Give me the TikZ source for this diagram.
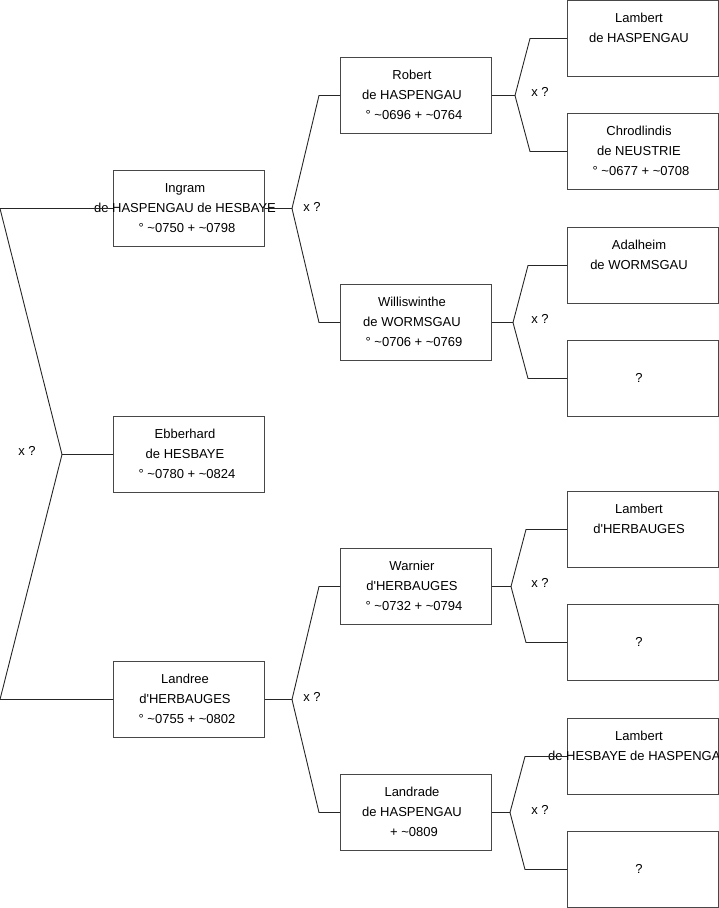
\documentclass[tikz,border=0pt]{standalone}
\usepackage{fontspec}
\setmainfont{Liberation Sans}[Ligatures=TeXOff]
\newcommand{\zline}[1]{\strut\makebox[0pt][c]{#1}}
\newcommand{\per}[3]{\hspace*{-4pt}\zline{#1}\\\hspace*{-4pt}\zline{#2}\\\hspace*{-4pt}\zline{#3}}
\begin{document}
\begin{tikzpicture}[x=1pt,y=-1pt,
  person/.style={draw=black!72, line width=1pt, rectangle, minimum width=151pt, minimum height=76pt,
    inner sep=0pt, align=center, anchor=north west, font=\fontsize{13}{20}\selectfont},
  conn/.style={draw=black!85, line width=0.9pt},
  xq/.style={font=\fontsize{13}{15}\selectfont, inner sep=0pt}]
\useasboundingbox (0,0) rectangle (719,908);
% generation 1
\node[person] (ingram) at (113,170) {\per{Ingram}{de HASPENGAU de HESBAYE}{° \textasciitilde0750 + \textasciitilde0798}};
\node[person] (ebb) at (113,416) {\per{Ebberhard}{de HESBAYE}{° \textasciitilde0780 + \textasciitilde0824}};
\node[person] (landree) at (113,661) {\per{Landree}{d'HERBAUGES}{° \textasciitilde0755 + \textasciitilde0802}};
% generation 2
\node[person] (robert) at (340,57) {\per{Robert}{de HASPENGAU}{° \textasciitilde0696 + \textasciitilde0764}};
\node[person] (willis) at (340,284) {\per{Williswinthe}{de WORMSGAU}{° \textasciitilde0706 + \textasciitilde0769}};
\node[person] (warnier) at (340,548) {\per{Warnier}{d'HERBAUGES}{° \textasciitilde0732 + \textasciitilde0794}};
\node[person] (landrade) at (340,774) {\per{Landrade}{de HASPENGAU}{+ \textasciitilde0809}};
% generation 3
\node[person] (lamb1) at (567,0) {\per{Lambert}{de HASPENGAU}{}};
\node[person] (chrod) at (567,113) {\per{Chrodlindis}{de NEUSTRIE}{° \textasciitilde0677 + \textasciitilde0708}};
\node[person] (adal) at (567,227) {\per{Adalheim}{de WORMSGAU}{}};
\node[person] (unk1) at (567,340) {\per{}{?}{}};
\node[person] (lamb2) at (567,491) {\per{Lambert}{d'HERBAUGES}{}};
\node[person] (unk2) at (567,604) {\per{}{?}{}};
\node[person] (lamb3) at (567,718) {\per{Lambert}{de HESBAYE de HASPENGAU}{}};
\node[person] (unk3) at (567,831) {\per{}{?}{}};
% junction points
\coordinate (a1) at (ingram.west -| 0,0);
\coordinate (a2) at (landree.west -| 0,0);
\coordinate (j0) at (ebb.west -| 62,0);
\coordinate (j1) at (ingram.east -| 292,0);
\coordinate (j1a) at (robert.west -| 319,0);
\coordinate (j1b) at (willis.west -| 319,0);
\coordinate (j2) at (landree.east -| 292,0);
\coordinate (j2a) at (warnier.west -| 319,0);
\coordinate (j2b) at (landrade.west -| 319,0);
\coordinate (k1) at (robert.east -| 515,0);
\coordinate (k1a) at (lamb1.west -| 530,0);
\coordinate (k1b) at (chrod.west -| 530,0);
\coordinate (k2) at (willis.east -| 513,0);
\coordinate (k2a) at (adal.west -| 528,0);
\coordinate (k2b) at (unk1.west -| 528,0);
\coordinate (k3) at (warnier.east -| 511,0);
\coordinate (k3a) at (lamb2.west -| 526,0);
\coordinate (k3b) at (unk2.west -| 526,0);
\coordinate (k4) at (landrade.east -| 510,0);
\coordinate (k4a) at (lamb3.west -| 525,0);
\coordinate (k4b) at (unk3.west -| 525,0);
% connectors
\draw[conn] (ingram.west) -- (a1) -- (j0) -- (ebb.west);
\draw[conn] (landree.west) -- (a2) -- (j0);
\draw[conn] (ingram.east) -- (j1) -- (j1a) -- (robert.west);
\draw[conn] (j1) -- (j1b) -- (willis.west);
\draw[conn] (landree.east) -- (j2) -- (j2a) -- (warnier.west);
\draw[conn] (j2) -- (j2b) -- (landrade.west);
\draw[conn] (robert.east) -- (k1) -- (k1a) -- (lamb1.west);
\draw[conn] (k1) -- (k1b) -- (chrod.west);
\draw[conn] (willis.east) -- (k2) -- (k2a) -- (adal.west);
\draw[conn] (k2) -- (k2b) -- (unk1.west);
\draw[conn] (warnier.east) -- (k3) -- (k3a) -- (lamb2.west);
\draw[conn] (k3) -- (k3b) -- (unk2.west);
\draw[conn] (landrade.east) -- (k4) -- (k4a) -- (lamb3.west);
\draw[conn] (k4) -- (k4b) -- (unk3.west);
% x ? labels
\node[xq] (x0) at (27,451) {x ?};
\node[xq] (x1) at (312,207) {x ?};
\node[xq] (x2) at (312,697) {x ?};
\node[xq] (x3) at (540,92) {x ?};
\node[xq] (x4) at (540,319) {x ?};
\node[xq] (x5) at (540,583) {x ?};
\node[xq] (x6) at (540,810) {x ?};
\end{tikzpicture}
\end{document}
